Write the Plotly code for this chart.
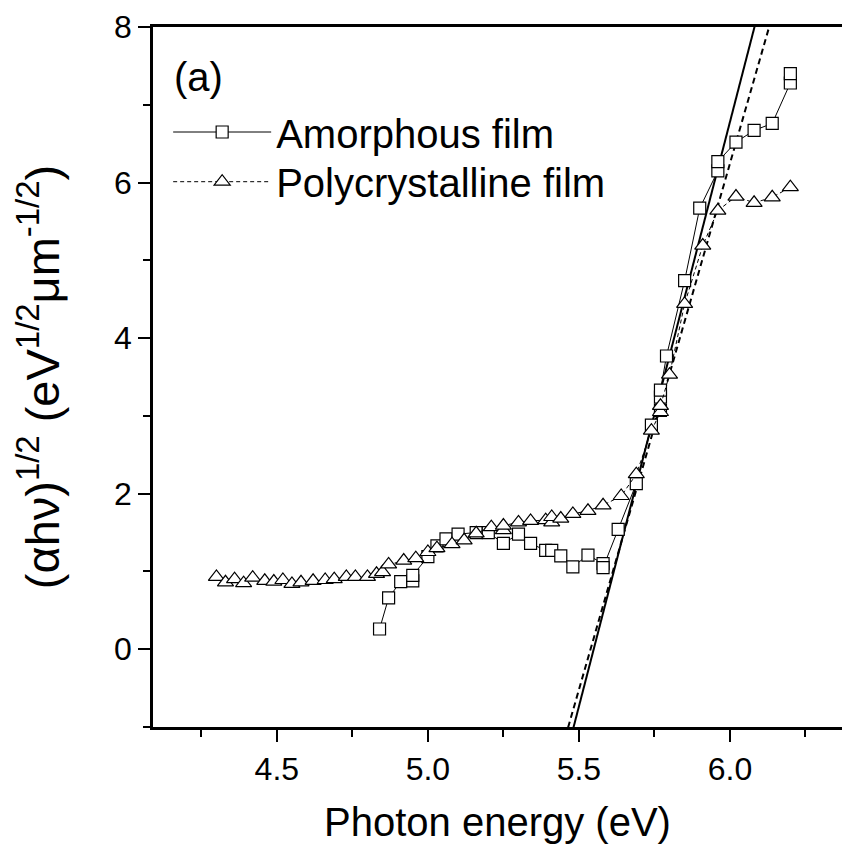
import plotly.graph_objects as go

# ---- data ----
amorphous_E = [4.84, 4.87, 4.91, 4.95, 4.95, 5.00, 5.03, 5.06, 5.10, 5.16, 5.20, 5.25, 5.30,
               5.34, 5.39, 5.41, 5.44, 5.48, 5.53, 5.58, 5.58, 5.63, 5.69, 5.74, 5.77, 5.77,
               5.77, 5.79, 5.85, 5.90, 5.96, 5.96, 6.02, 6.08, 6.14, 6.20, 6.20]
amorphous_v = [0.26, 0.66, 0.87, 0.88, 0.95, 1.19, 1.33, 1.42, 1.48, 1.50, 1.50, 1.36, 1.48,
               1.36, 1.27, 1.27, 1.20, 1.06, 1.21, 1.10, 1.05, 1.54, 2.13, 2.88, 3.07, 3.24,
               3.33, 3.77, 4.74, 5.67, 6.15, 6.27, 6.52, 6.67, 6.76, 7.28, 7.40]

poly_E = [4.30, 4.33, 4.36, 4.39, 4.42, 4.46, 4.49, 4.52, 4.55, 4.58, 4.62, 4.66, 4.69,
          4.73, 4.76, 4.80, 4.83, 4.85, 4.87, 4.92, 4.96, 5.00, 5.03, 5.08, 5.12, 5.16,
          5.21, 5.25, 5.25, 5.30, 5.34, 5.39, 5.41, 5.41, 5.44, 5.48, 5.53, 5.58, 5.64,
          5.69, 5.74, 5.77, 5.77, 5.80, 5.85, 5.91, 5.96, 6.02, 6.08, 6.14, 6.20]
poly_v = [0.93, 0.86, 0.90, 0.85, 0.92, 0.88, 0.87, 0.89, 0.84, 0.86, 0.88, 0.89, 0.90,
          0.93, 0.93, 0.93, 0.97, 0.99, 1.09, 1.14, 1.17, 1.25, 1.30, 1.35, 1.40, 1.49,
          1.57, 1.53, 1.59, 1.63, 1.65, 1.66, 1.63, 1.70, 1.68, 1.74, 1.78, 1.85, 1.97,
          2.25, 2.81, 3.05, 3.13, 3.53, 4.44, 5.19, 5.64, 5.82, 5.74, 5.81, 5.94]

# linear (Tauc) fits: v = slope * (E - Eg)
fit_amorphous = {"Eg": 5.549, "slope": 15.03}
fit_poly = {"Eg": 5.5385, "slope": 13.53}
fit_v_span = [-1.5, 8.5]

series_names = ["Amorphous film", "Polycrystalline film"]
x_ticks = [4.5, 5.0, 5.5, 6.0]
y_ticks = [0, 2, 4, 6, 8]

FONT = "Liberation Sans, Arial, sans-serif"

fig = go.Figure()

def fit_line(p):
    xs = [p["Eg"] + v / p["slope"] for v in fit_v_span]
    return xs, fit_v_span

xa, ya = fit_line(fit_amorphous)
fig.add_trace(go.Scatter(x=xa, y=ya, mode="lines", showlegend=False,
                         line=dict(color="black", width=2), hoverinfo="skip"))
xp, yp = fit_line(fit_poly)
fig.add_trace(go.Scatter(x=xp, y=yp, mode="lines", showlegend=False,
                         line=dict(color="black", width=2, dash="6px,4px"), hoverinfo="skip"))

fig.add_trace(go.Scatter(
    x=amorphous_E, y=amorphous_v, mode="lines+markers", name=series_names[0],
    legend="legend",
    line=dict(color="black", width=1),
    marker=dict(symbol="square", size=12, color="white",
                line=dict(color="black", width=1.2)),
))
fig.add_trace(go.Scatter(
    x=poly_E, y=poly_v, mode="lines+markers", name=series_names[1],
    legend="legend2",
    line=dict(color="black", width=1, dash="4px,3px"),
    marker=dict(symbol="triangle-up", size=14, color="white",
                line=dict(color="black", width=1.2)),
))

fig.add_annotation(text="(a)", xref="paper", yref="paper", x=0.027, y=0.928,
                   xanchor="left", yanchor="middle", showarrow=False,
                   font=dict(family=FONT, size=40, color="black"))

axis_common = dict(showline=True, linecolor="black", linewidth=2.5,
                   ticks="outside", ticklen=12, tickwidth=2, tickcolor="black",
                   showgrid=False, zeroline=False, automargin=False,
                   tickfont=dict(family=FONT, size=32, color="black"))

fig.update_xaxes(range=[4.09, 6.371], tickvals=x_ticks, tickformat=".1f",
                 mirror=True,
                 minor=dict(dtick=0.25, tick0=4.25, ticks="outside", ticklen=7,
                            tickwidth=2, tickcolor="black"),
                 title=dict(text="Photon energy (eV)", standoff=22,
                            font=dict(family=FONT, size=40, color="black")),
                 **axis_common)
fig.update_yaxes(range=[-1, 8], tickvals=y_ticks,
                 minor=dict(dtick=1, tick0=-1, ticks="outside", ticklen=7,
                            tickwidth=2, tickcolor="black"),
                 title=dict(text="(αhν)<sup>1/2</sup> (eV<sup>1/2</sup>μm<sup>-1/2</sup>)",
                            standoff=40,
                            font=dict(family=FONT, size=47, color="black")),
                 **axis_common)

legend_common = dict(x=0.022, xanchor="left", yanchor="middle",
                     bgcolor="rgba(0,0,0,0)", itemwidth=98,
                     font=dict(family=FONT, size=40, color="black"))

fig.update_layout(
    width=842, height=848,
    margin=dict(l=153, r=0, t=27, b=121),
    paper_bgcolor="white", plot_bgcolor="white",
    legend=dict(y=0.85, **legend_common),
    legend2=dict(y=0.779, **legend_common),
    showlegend=True,
)

fig.write_html("out.html",
               config={"displayModeBar": False},
               post_script="document.body.style.margin='0';document.body.style.overflow='hidden';")
